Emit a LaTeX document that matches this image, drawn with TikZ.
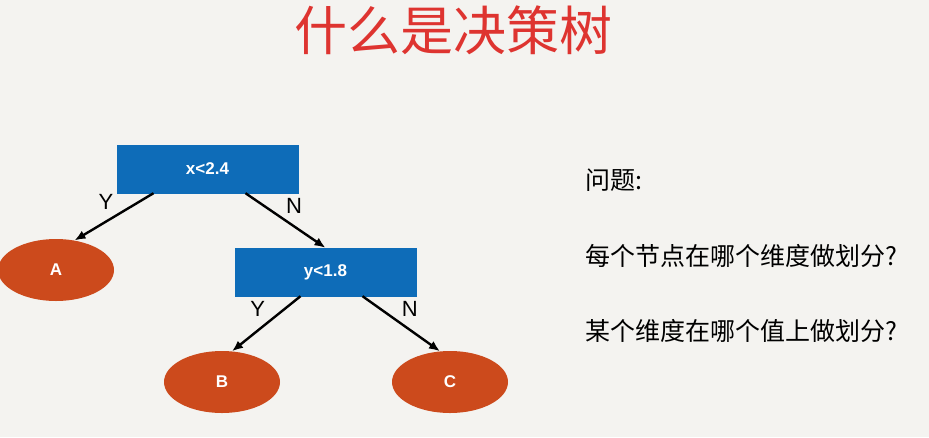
\documentclass[tikz,border=0pt]{standalone}
\usepackage{fontspec}
\setmainfont{Liberation Sans}
\newfontfamily\cjk{Noto Sans CJK SC}
\usetikzlibrary{calc,shapes.geometric}
\definecolor{bgcol}{RGB}{244,243,240}
\definecolor{boxblue}{RGB}{14,108,184}
\definecolor{leafred}{RGB}{204,74,28}
\definecolor{titlered}{RGB}{222,52,48}
\tikzset{
  testbox/.style={fill=boxblue,draw=boxblue,minimum width=181pt,minimum height=48pt,text=white,font=\bfseries\fontsize{17}{19}\selectfont},
  leaf/.style={ellipse,fill=leafred,minimum width=116pt,minimum height=62pt,text=white,font=\bfseries\fontsize{17}{19}\selectfont},
  edge/.style={-{Latex[length=11pt,width=9pt]},line width=2.4pt},
  elabel/.style={font=\fontsize{22}{24}\selectfont},
}
\usetikzlibrary{arrows.meta}
\begin{document}
\begin{tikzpicture}[x=1pt,y=-1pt]
	\fill[bgcol] (0,0) rectangle (929,437);
	\useasboundingbox (0,0) rectangle (929,437);
	\node[text=titlered,font=\cjk\fontsize{53}{58}\selectfont] (title) at (453,30) {什么是决策树};
	
	\node[testbox] (x1) at (207.5,169) {x<2.4};
	\node[testbox] (y1) at (325.5,272) {y<1.8};
	\node[leaf] (A) at (56,270) {A};
	\node[leaf] (B) at (222,382) {B};
	\node[leaf] (C) at (450,382) {C};
	
	\draw[edge] ($(x1.south)+(-54,0)$) -- (A.58) node[elabel,pos=0.45,above left] {Y};
	\draw[edge] ($(x1.south)+(38,0)$) -- (y1.north) node[elabel,pos=0.45,above right] {N};
	\draw[edge] ($(y1.south)+(-25,0)$) -- (B.72) node[elabel,pos=0.45,above left] {Y};
	\draw[edge] ($(y1.south)+(37,0)$) -- (C.108) node[elabel,pos=0.45,above right] {N};
	
	\node[anchor=west,font=\cjk\fontsize{25}{28}\selectfont] (q0) at (582,180) {问题:};
	\node[anchor=west,font=\cjk\fontsize{25}{28}\selectfont] (q1) at (582,256) {每个节点在哪个维度做划分?};
	\node[anchor=west,font=\cjk\fontsize{25}{28}\selectfont] (q2) at (582,331) {某个维度在哪个值上做划分?};
\end{tikzpicture}
\end{document}
